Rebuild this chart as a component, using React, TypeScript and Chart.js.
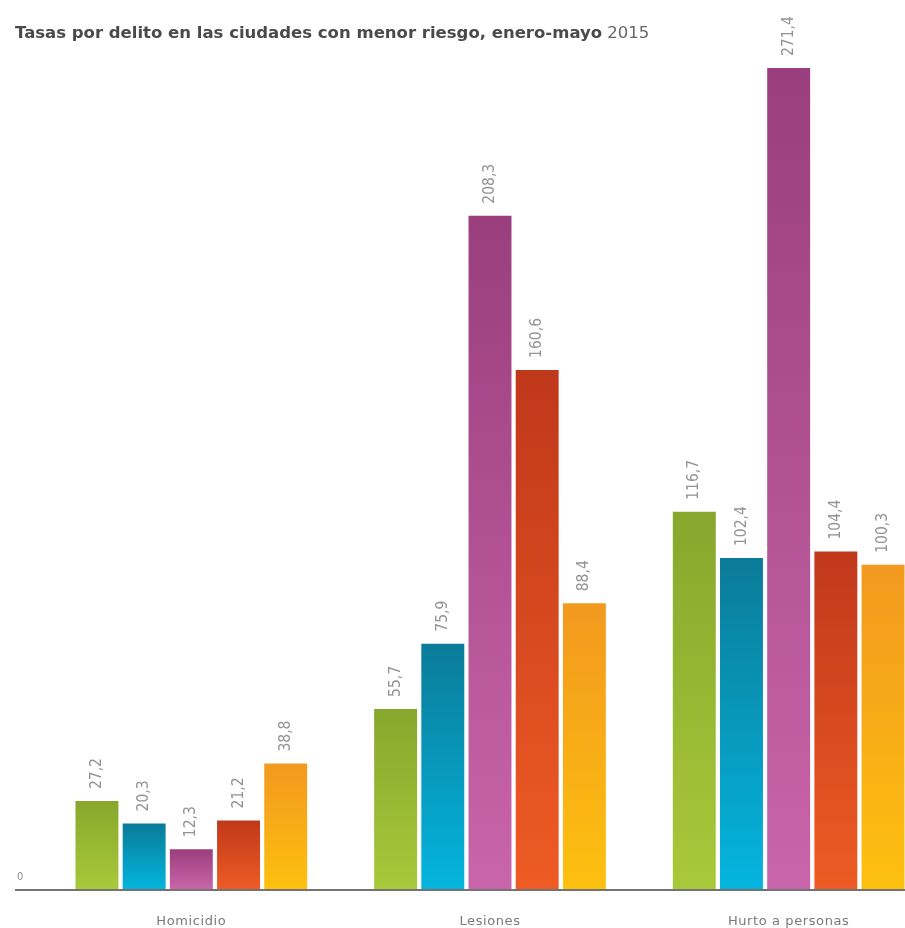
import React, { useEffect, useRef } from "react";
import { Chart, registerables } from "chart.js";

Chart.register(...registerables);

const categories = ["Homicidio", "Lesiones", "Hurto a personas"];
const serieVerde = [27.2, 55.7, 116.7];
const serieAzul = [20.3, 75.9, 102.4];
const serieMorada = [12.3, 208.3, 271.4];
const serieRoja = [21.2, 160.6, 104.4];
const serieNaranja = [38.8, 88.4, 100.3];
const zeroLabel = "0";

const gradients: [string, string][] = [
  ["#86a72c", "#a8c93a"],
  ["#0a7b98", "#04b5de"],
  ["#9a3e7d", "#c965aa"],
  ["#c0381b", "#ee5b24"],
  ["#f2991f", "#fdc00f"],
];

const fmt = (v: number) => v.toFixed(1).replace(".", ",");

export default function App() {
  const ref = useRef<HTMLCanvasElement | null>(null);
  useEffect(() => {
    if (!ref.current) return;
    const series = [serieVerde, serieAzul, serieMorada, serieRoja, serieNaranja];
    const labelPlugin = {
      id: "customLabels",
      afterDatasetsDraw(chart: any) {
        const c = chart.ctx;
        const area = chart.chartArea;
        c.save();
        // baseline
        const y0 = chart.scales.y.getPixelForValue(0);
        c.strokeStyle = "#737373";
        c.lineWidth = 2;
        c.beginPath();
        c.moveTo(15, y0 + 1);
        c.lineTo(chart.width, y0 + 1);
        c.stroke();
        // zero label
        c.fillStyle = "#8a8a8a";
        c.font = "11px 'DejaVu Sans Condensed', 'DejaVu Sans'";
        c.textAlign = "left";
        c.textBaseline = "middle";
        c.fillText(zeroLabel, 17, y0 - 12);
        // category labels
        c.font = "13px 'DejaVu Sans'";
        c.fillStyle = "#7a7a7a";
        c.textAlign = "center";
        (c as any).letterSpacing = "0.6px";
        categories.forEach((lab, i) => {
          c.fillText(lab, chart.scales.x.getPixelForValue(i), y0 + 33);
        });
        (c as any).letterSpacing = "0px";
        // value labels
        c.font = "15.5px 'DejaVu Sans Condensed', 'DejaVu Sans'";
        c.fillStyle = "#939393";
        chart.data.datasets.forEach((ds: any, di: number) => {
          const meta = chart.getDatasetMeta(di);
          meta.data.forEach((el: any, i: number) => {
            const top = Math.max(el.y, area.top);
            c.save();
            c.translate(el.x, top - 12);
            c.rotate(-Math.PI / 2);
            c.textAlign = "left";
            c.textBaseline = "middle";
            c.fillText(fmt(ds.data[i]), 0, 0);
            c.restore();
          });
        });
        c.restore();
      },
    };
    const chart = new Chart(ref.current, {
      type: "bar",
      data: {
        labels: categories,
        datasets: series.map((d, si) => ({
          label: "Serie " + (si + 1),
          data: d,
          borderWidth: 0,
          backgroundColor: (ctx: any) => {
            const ch = ctx.chart;
            const ys = ch.scales && ch.scales.y;
            if (!ys || !ch.chartArea || ctx.type !== "data") return gradients[si][0];
            const top = Math.max(ys.getPixelForValue(ctx.raw), ch.chartArea.top);
            const bottom = ys.getPixelForValue(0);
            const g = ch.ctx.createLinearGradient(0, top, 0, bottom);
            g.addColorStop(0, gradients[si][0]);
            g.addColorStop(1, gradients[si][1]);
            return g;
          },
        })),
      },
      options: {
        animation: false,
        responsive: false,
        devicePixelRatio: 1,
        datasets: { bar: { categoryPercentage: 0.79, barPercentage: 0.91 } },
        layout: { padding: { left: 42, right: 0, top: 68, bottom: 39 } },
        plugins: { legend: { display: false }, tooltip: { enabled: false }, title: { display: false } },
        scales: {
          x: { display: false },
          y: { display: false, min: 0, max: 254 },
        },
      },
      plugins: [labelPlugin],
    });
    return () => chart.destroy();
  }, []);
  return (
    <div
      style={{
        position: "fixed",
        left: 0,
        top: 0,
        width: 905,
        height: 928,
        overflow: "hidden",
        background: "#fff",
      }}
    >
      <canvas ref={ref} width={938} height={928} style={{ width: 938, height: 928, display: "block" }} />
      <div
        style={{
          position: "absolute",
          left: 15,
          top: 23,
          fontFamily: "'DejaVu Sans', sans-serif",
          fontSize: 16.5,
          color: "#4a4a4a",
          whiteSpace: "nowrap",
          lineHeight: "20px",
        }}
      >
        <span style={{ fontWeight: "bold" }}>Tasas por delito en las ciudades con menor riesgo, enero-mayo</span>{" "}
        <span style={{ fontWeight: "normal", color: "#666" }}>2015</span>
      </div>
    </div>
  );
}
